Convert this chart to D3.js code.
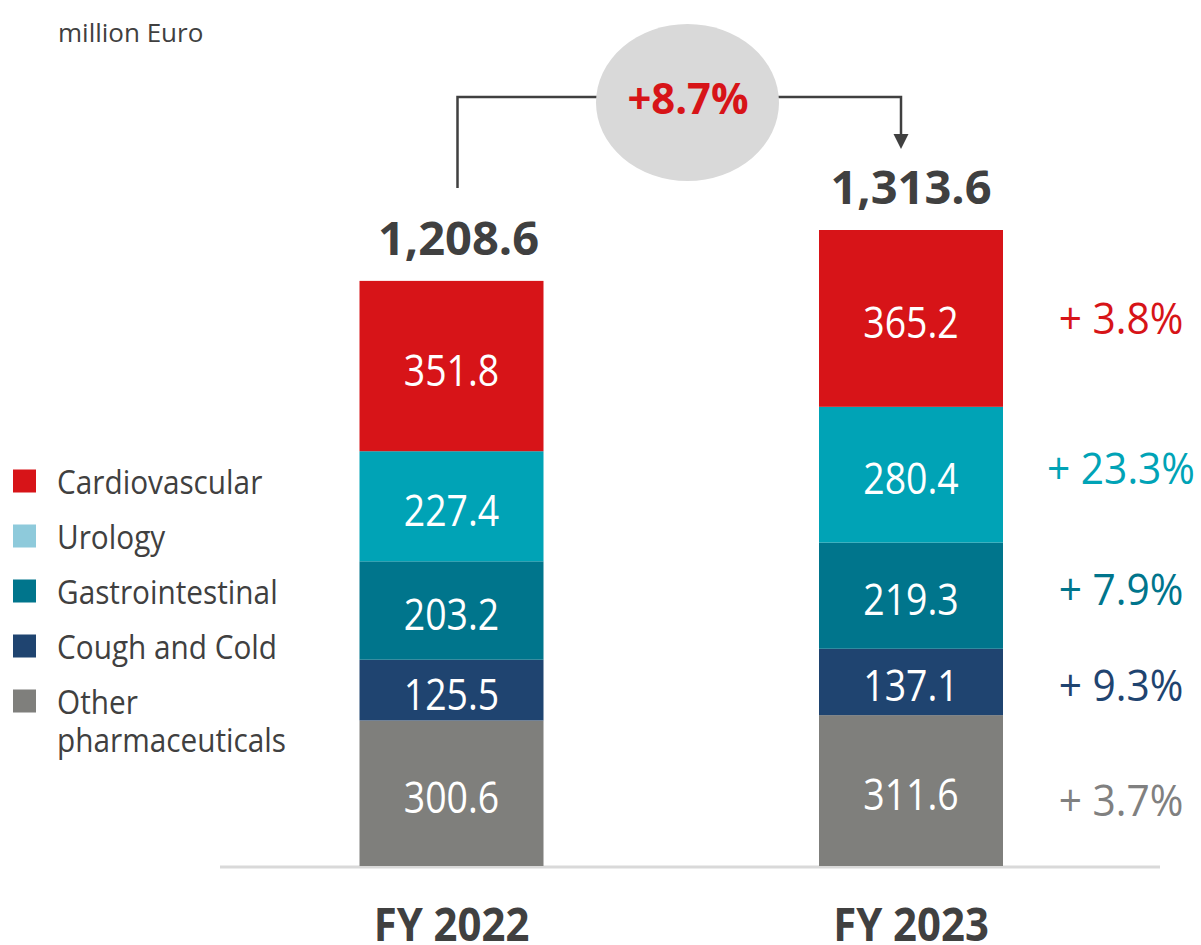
<!DOCTYPE html>
<html><head><meta charset="utf-8">
<script src="https://cdn.jsdelivr.net/npm/d3@7"></script>
<style>
html,body{margin:0;padding:0;background:#fff;}
text{font-family:"Open Sans","Noto Sans",sans-serif;}
</style></head>
<body>
<svg id="chart" width="1201" height="945"></svg>
<script>
const years = ["FY 2022", "FY 2023"];
const categories = ["Other pharmaceuticals", "Cough and Cold", "Gastrointestinal", "Urology", "Cardiovascular"];
const fy2022 = [300.6, 125.5, 203.2, 227.4, 351.8];
const fy2023 = [311.6, 137.1, 219.3, 280.4, 365.2];
const totals = ["1,208.6", "1,313.6"];
const growth = ["+ 3.7%", "+ 9.3%", "+ 7.9%", "+ 23.3%", "+ 3.8%"];
const totalGrowth = "+8.7%";
const unitLabel = "million Euro";
const legendOrder = ["Cardiovascular", "Urology", "Gastrointestinal", "Cough and Cold", "Other pharmaceuticals"];

const barColors = {"Cardiovascular":"#d71418","Urology":"#00a3b6","Gastrointestinal":"#00758c","Cough and Cold":"#1f4470","Other pharmaceuticals":"#7f7f7c"};
const legendColors = {"Cardiovascular":"#d71418","Urology":"#8ecadb","Gastrointestinal":"#00758c","Cough and Cold":"#1f4470","Other pharmaceuticals":"#7f7f7c"};
const growthColors = {"Cardiovascular":"#d71418","Urology":"#00a3b6","Gastrointestinal":"#00758c","Cough and Cold":"#1f4470","Other pharmaceuticals":"#808080"};
// hand-placed nudges of labels (px)
const growthNudge = [10, 3, -6, -6, 0];
const totalNudge = [7, 0];
const dark = "#404040";

const svg = d3.select("#chart");
const baseY = 866;
const y = d3.scaleLinear().domain([0, d3.sum(fy2023)]).range([baseY, 230]);
const x = d3.scalePoint().domain(years).range([451.5, 911]);
const bw = 184;
const xb = d => x(d) - bw / 2;

// text helper with horizontal compression
function txt(parent, px, py, str, size, sx, anchor, fill, weight) {
  return parent.append("text")
    .attr("transform", `translate(${px},${py}) scale(${sx},1)`)
    .attr("text-anchor", anchor).attr("fill", fill)
    .attr("font-size", size).attr("font-weight", weight || "normal")
    .text(str);
}

const data = [fy2022, fy2023];

// baseline
svg.append("line").attr("x1",220).attr("x2",1160).attr("y1",baseY+1).attr("y2",baseY+1)
  .attr("stroke","#d9d9d9").attr("stroke-width",3);

years.forEach((yr, yi) => {
  let cum = 0;
  const g = svg.append("g");
  const bx = xb(yr);
  categories.forEach((c, ci) => {
    const v = data[yi][ci];
    const y0 = y(cum), y1 = y(cum + v);
    g.append("rect").attr("x", bx).attr("width", bw)
      .attr("y", y1).attr("height", y0 - y1).attr("fill", barColors[c]);
    const mid = (y0 + y1) / 2;
    txt(g, x(yr), mid + 19.5, v.toFixed(1), 43, 0.87, "middle", "#fff");
    if (yi === 1) {
      txt(svg, 1121, mid + growthNudge[ci] + 15.7, growth[ci], 44, 0.925, "middle", growthColors[c]);
    }
    cum += v;
  });
  // total
  txt(svg, x(yr) + totalNudge[yi], y(cum) - 26, totals[yi], 47, 1, "middle", dark, "bold");
  // axis label
  txt(svg, x(yr), 941, yr, 46, 0.91, "middle", dark, "bold");
});

// connector
const lx = x(years[0]) + 6, rx = x(years[1]) - 10;
svg.append("path").attr("d", `M${lx},188 V97 H${rx} V136`).attr("fill","none")
  .attr("stroke", dark).attr("stroke-width", 2.5);
svg.append("path").attr("d", `M${rx-7.5},134 L${rx+7.5},134 L${rx},149 Z`).attr("fill", dark);
svg.append("ellipse").attr("cx", 687.5).attr("cy", 102.5).attr("rx", 91.5).attr("ry", 78.5).attr("fill","#d9d9d9");
txt(svg, 688, 113.5, totalGrowth, 43.5, 0.96, "middle", "#d71418", "bold");

// unit
svg.append("text").attr("x", 58).attr("y", 42).attr("fill", dark).attr("font-size", 26).text(unitLabel);

// legend
legendOrder.forEach((c, i) => {
  const cy = 481 + i * 55;
  svg.append("rect").attr("x", 13).attr("y", cy - 11.5).attr("width", 23).attr("height", 23).attr("fill", legendColors[c]);
  if (c === "Other pharmaceuticals") {
    txt(svg, 57, cy + 13, "Other", 32, 0.93, "start", dark);
    txt(svg, 57, cy + 51, "pharmaceuticals", 32, 0.93, "start", dark);
  } else {
    txt(svg, 57, cy + 13, c, 32, 0.93, "start", dark);
  }
});
</script>
</body></html>
